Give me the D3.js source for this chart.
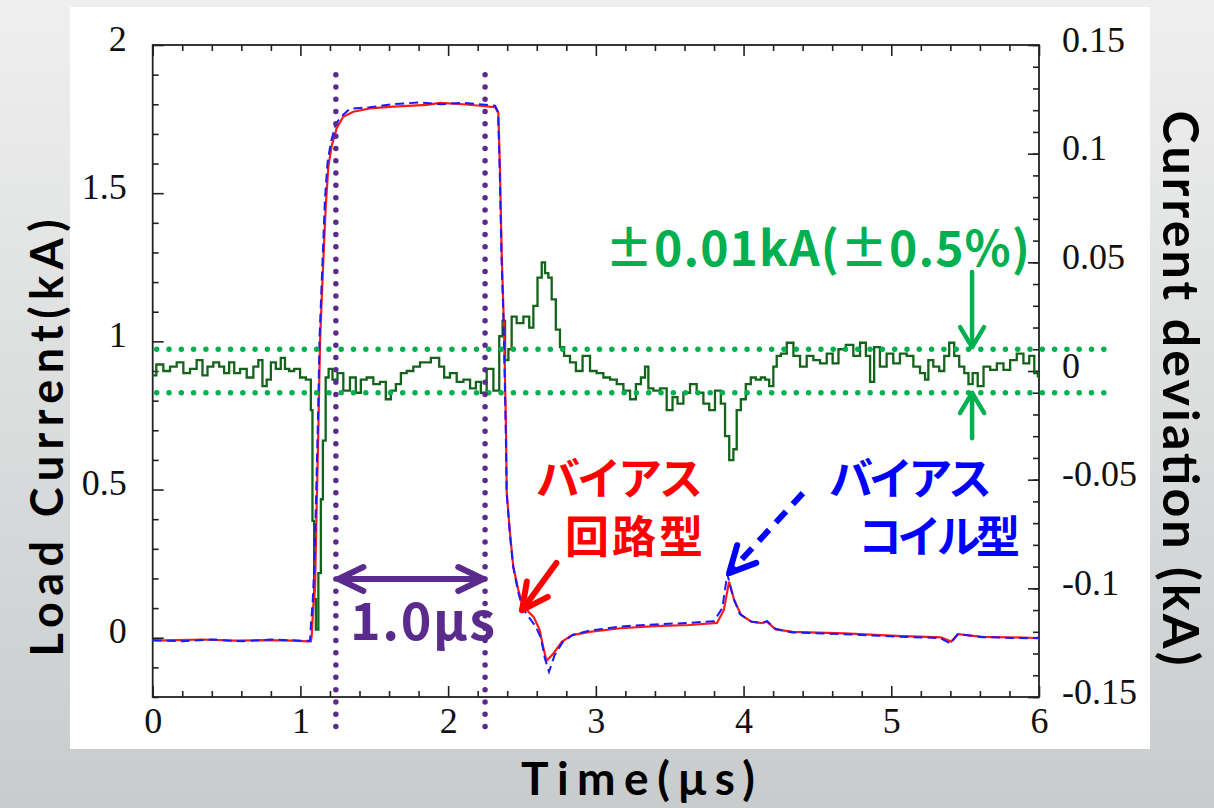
<!DOCTYPE html>
<html>
<head>
<meta charset="utf-8">
<style>
  html, body { margin: 0; padding: 0; }
  svg { display: block; }
</style>
</head>
<body>
<svg width="1214" height="808"></svg>
<script src="https://d3js.org/d3.v7.min.js"></script>
<script>

// time (us) and load current (kA), bias-circuit type (red)
const circuitType = [
  [0.00,-0.010],[0.15,-0.008],[0.35,-0.006],[0.55,-0.010],[0.75,-0.008],[0.95,-0.010],[1.05,-0.012],
  [1.070,-0.012],[1.076,0.003],[1.087,0.105],[1.099,0.17],[1.110,0.44],[1.121,0.69],[1.133,1.00],
  [1.144,1.14],[1.155,1.27],[1.171,1.45],[1.189,1.59],[1.212,1.66],[1.246,1.72],[1.290,1.758],
  [1.358,1.775],[1.471,1.786],[1.629,1.792],[1.855,1.798],[1.945,1.805],[2.100,1.800],[2.216,1.795],
  [2.318,1.790],[2.340,1.770],[2.351,1.578],[2.363,1.29],[2.378,1.05],[2.392,0.70],[2.397,0.487],
  [2.419,0.352],[2.441,0.24],[2.475,0.161],[2.509,0.105],[2.577,0.071],[2.584,0.065],[2.620,0.026],
  [2.643,-0.03],[2.666,-0.078],[2.713,-0.053],[2.771,-0.013],[2.841,0.009],[2.957,0.020],[3.167,0.032],
  [3.401,0.039],[3.634,0.043],[3.820,0.050],[3.866,0.093],[3.902,0.189],[3.937,0.127],[3.983,0.077],
  [4.053,0.054],[4.123,0.049],[4.158,0.054],[4.217,0.028],[4.333,0.020],[4.683,0.015],[5.033,0.006],
  [5.336,0.001],[5.405,-0.013],[5.452,0.012],[5.615,0.003],[5.940,0.000],[6.000,-0.002]
];

// bias-coil type (blue, dashed)
const coilType = [
  [0.00,-0.008],[0.20,-0.012],[0.40,-0.006],[0.60,-0.012],[0.80,-0.006],[1.00,-0.010],[1.065,-0.010],
  [1.072,0.05],[1.083,0.12],[1.095,0.25],[1.106,0.47],[1.118,0.72],[1.130,1.02],[1.141,1.16],
  [1.152,1.30],[1.166,1.48],[1.183,1.60],[1.205,1.67],[1.240,1.735],[1.290,1.765],[1.335,1.785],
  [1.47,1.790],[1.62,1.800],[1.80,1.806],[1.95,1.800],[2.10,1.805],[2.25,1.798],[2.318,1.795],
  [2.338,1.775],[2.349,1.58],[2.361,1.29],[2.376,1.05],[2.390,0.70],[2.396,0.49],[2.418,0.35],
  [2.440,0.24],[2.474,0.155],[2.505,0.098],[2.560,0.060],[2.590,0.040],[2.628,0.000],[2.655,-0.070],
  [2.683,-0.115],[2.720,-0.060],[2.775,-0.015],[2.845,0.010],[2.96,0.024],[3.17,0.038],[3.40,0.045],
  [3.63,0.050],[3.80,0.056],[3.856,0.100],[3.890,0.215],[3.930,0.135],[3.975,0.080],[4.050,0.055],
  [4.120,0.050],[4.160,0.056],[4.215,0.030],[4.33,0.018],[4.68,0.012],[5.03,0.004],[5.33,-0.001],
  [5.40,-0.020],[5.45,0.012],[5.62,0.002],[5.94,-0.002],[6.00,0.000]
];

// current deviation (kA) between the two, right axis
const deviation = [
  [0.00,-0.002],[0.049,0.003],[0.095,0.000],[0.14,0.002],[0.185,0.004],[0.23,-0.001],[0.275,0.001],
  [0.32,0.005],[0.354,-0.002],[0.388,0.002],[0.433,0.004],[0.467,0.002],[0.50,-0.001],[0.535,0.004],
  [0.569,-0.001],[0.614,0.001],[0.659,-0.003],[0.704,0.002],[0.726,0.005],[0.76,-0.007],[0.783,-0.004],
  [0.817,0.004],[0.85,0.001],[0.884,0.006],[0.907,0.001],[0.941,0.000],[0.975,0.001],[1.02,-0.003],
  [1.054,-0.004],[1.065,-0.004],[1.076,-0.018],[1.087,-0.069],[1.099,-0.105],[1.11,-0.119],
  [1.133,-0.093],[1.144,-0.059],[1.16,-0.032],[1.182,-0.003],[1.20,0.001],[1.234,-0.004],
  [1.268,-0.001],[1.313,-0.009],[1.358,-0.003],[1.392,-0.010],[1.426,-0.004],[1.471,-0.003],
  [1.516,-0.006],[1.561,-0.005],[1.595,-0.013],[1.629,-0.009],[1.663,-0.006],[1.697,-0.001],
  [1.742,0.000],[1.787,0.002],[1.832,0.004],[1.866,0.004],[1.90,0.006],[1.923,0.006],[1.956,0.002],
  [1.99,-0.003],[2.035,-0.001],[2.081,-0.005],[2.126,-0.004],[2.171,-0.008],[2.205,-0.005],
  [2.238,-0.010],[2.284,0.001],[2.329,-0.009],[2.363,0.016],[2.374,0.023],[2.397,0.005],[2.419,0.010],
  [2.441,0.025],[2.487,0.022],[2.532,0.025],[2.566,0.020],[2.588,0.030],[2.622,0.043],[2.645,0.050],
  [2.667,0.045],[2.69,0.043],[2.712,0.033],[2.746,0.019],[2.768,0.011],[2.802,0.007],[2.848,0.004],
  [2.882,0.000],[2.938,0.007],[2.983,0.000],[3.028,-0.001],[3.074,-0.003],[3.119,-0.004],
  [3.164,-0.006],[3.209,-0.009],[3.254,-0.013],[3.288,-0.006],[3.322,-0.003],[3.344,0.002],
  [3.367,-0.008],[3.412,-0.009],[3.457,-0.008],[3.502,-0.018],[3.536,-0.012],[3.57,-0.015],
  [3.615,-0.010],[3.66,-0.006],[3.705,-0.010],[3.751,-0.015],[3.784,-0.018],[3.829,-0.009],
  [3.863,-0.015],[3.886,-0.030],[3.92,-0.041],[3.942,-0.036],[3.965,-0.018],[3.998,-0.013],
  [4.032,-0.006],[4.066,-0.003],[4.10,-0.004],[4.134,-0.003],[4.157,-0.004],[4.19,-0.007],
  [4.213,0.002],[4.236,0.007],[4.27,0.008],[4.315,0.013],[4.36,0.007],[4.405,0.002],[4.45,0.007],
  [4.495,0.005],[4.54,0.0035],[4.586,0.008],[4.62,0.0035],[4.665,0.010],[4.72,0.012],[4.766,0.007],
  [4.811,0.013],[4.845,0.007],[4.868,-0.005],[4.90,0.011],[4.946,0.002],[4.991,0.008],[5.036,0.0035],
  [5.081,0.008],[5.127,0.007],[5.172,0.002],[5.217,-0.001],[5.24,-0.004],[5.262,0.005],[5.307,0.002],
  [5.342,0.000],[5.375,0.007],[5.409,0.013],[5.443,0.007],[5.477,0.002],[5.511,-0.001],[5.534,-0.006],
  [5.568,-0.001],[5.602,-0.007],[5.647,0.002],[5.692,0.0005],[5.737,0.0035],[5.782,0.0005],
  [5.827,0.005],[5.872,0.008],[5.917,0.0035],[5.951,0.007],[5.985,-0.001],[6.00,-0.0025]
];

const xTicks = [0, 1, 2, 3, 4, 5, 6];
const leftTicks = [0, 0.5, 1, 1.5, 2];
const rightTicks = [-0.15, -0.1, -0.05, 0, 0.05, 0.1, 0.15];
const markerTimes = [1.24, 2.25];   // purple dotted lines, 1.0 us apart
const tolerance = [0.01, -0.01];    // green dotted band

const svg = d3.select("svg");

// background
const defs = svg.append("defs");
const grad = defs.append("linearGradient").attr("id", "bg").attr("x1", 0).attr("y1", 0).attr("x2", 0).attr("y2", 1);
grad.append("stop").attr("offset", "0%").attr("stop-color", "#efefef");
grad.append("stop").attr("offset", "100%").attr("stop-color", "#c8cccd");
svg.append("rect").attr("width", 1214).attr("height", 808).attr("fill", "url(#bg)");
svg.append("rect").attr("x", 70).attr("y", 7).attr("width", 1080).attr("height", 742).attr("fill", "#fff");

const pLeft = 152.7, pRight = 1039, pTop = 45, pBottom = 697;

const x = d3.scaleLinear().domain([0, 6]).range([pLeft, pRight]);
const yL = d3.scaleLinear().domain([-0.2, 2]).range([pBottom, pTop]);
const yR = d3.scaleLinear().domain([-0.15, 0.15]).range([pBottom, pTop]);

const xMinor = d3.range(0, 31).map(i => i / 5).filter(v => !xTicks.includes(v));
const lMinor = d3.range(-2, 21).map(i => i / 10).filter(v => !leftTicks.includes(v));
const rMinor = d3.range(-15, 16).map(i => i / 100);

const tickFont = "'Liberation Serif', 'Times New Roman', serif";

function styleAxis(g) {
  g.select(".domain").remove();
  g.selectAll("line").attr("stroke", "#222").attr("stroke-width", 1.6);
  g.selectAll("text").attr("font-family", tickFont).attr("font-size", 36).attr("fill", "#111");
}

// bottom
svg.append("g").attr("transform", `translate(0,${pBottom})`)
  .call(d3.axisBottom(x).tickValues(xMinor).tickSize(-6).tickFormat("")).call(styleAxis);
svg.append("g").attr("transform", `translate(0,${pBottom})`)
  .call(d3.axisBottom(x).tickValues(xTicks).tickSize(-11).tickPadding(10).tickFormat(d => String(d)))
  .call(styleAxis);
// top
svg.append("g").attr("transform", `translate(0,${pTop})`)
  .call(d3.axisTop(x).tickValues(xMinor).tickSize(-6).tickFormat("")).call(styleAxis);
svg.append("g").attr("transform", `translate(0,${pTop})`)
  .call(d3.axisTop(x).tickValues(xTicks).tickSize(-11).tickFormat("")).call(styleAxis);
// left
svg.append("g").attr("transform", `translate(${pLeft},0)`)
  .call(d3.axisLeft(yL).tickValues(lMinor).tickSize(-6).tickFormat("")).call(styleAxis);
svg.append("g").attr("transform", `translate(${pLeft},0)`)
  .call(d3.axisLeft(yL).tickValues(leftTicks).tickSize(-11).tickPadding(26).tickFormat(d => String(d)))
  .call(styleAxis)
  .selectAll("text").attr("dy", "0.14em");
// right
svg.append("g").attr("transform", `translate(${pRight},0)`)
  .call(d3.axisRight(yR).tickValues(rMinor).tickSize(-6).tickFormat("")).call(styleAxis);
svg.append("g").attr("transform", `translate(${pRight},0)`)
  .call(d3.axisRight(yR).tickValues(rightTicks).tickSize(-11).tickPadding(23).tickFormat(d => String(d)))
  .call(styleAxis)
  .selectAll("text").attr("dy", "0.17em");

// frame
svg.append("rect").attr("x", pLeft).attr("y", pTop).attr("width", pRight - pLeft).attr("height", pBottom - pTop)
  .attr("fill", "none").attr("stroke", "#222").attr("stroke-width", 1.8);

// traces
const lineL = d3.line().x(d => x(d[0])).y(d => yL(d[1]));
const lineR = d3.line().x(d => x(d[0])).y(d => yR(d[1])).curve(d3.curveStep);

svg.append("path").datum(deviation).attr("d", lineR)
  .attr("fill", "none").attr("stroke", "#13631a").attr("stroke-width", 2.3);
svg.append("path").datum(circuitType).attr("d", lineL)
  .attr("fill", "none").attr("stroke", "#ff1a1a").attr("stroke-width", 2.2);
svg.append("path").datum(coilType).attr("d", lineL)
  .attr("fill", "none").attr("stroke", "#1a1aff").attr("stroke-width", 2)
  .attr("stroke-dasharray", "9,5");

// green tolerance band
svg.append("g").selectAll("line").data(tolerance).enter().append("line")
  .attr("x1", pLeft + 4).attr("x2", pRight + 66)
  .attr("y1", d => yR(d)).attr("y2", d => yR(d))
  .attr("stroke", "#00b050").attr("stroke-width", 5.5)
  .attr("stroke-linecap", "round").attr("stroke-dasharray", "0,12.3");

// purple dotted markers
svg.append("g").selectAll("line").data(markerTimes).enter().append("line")
  .attr("x1", d => x(d)).attr("x2", d => x(d))
  .attr("y1", yL(1.9)).attr("y2", yL(-0.335))
  .attr("stroke", "#5a2a8c").attr("stroke-width", 5.5)
  .attr("stroke-linecap", "round").attr("stroke-dasharray", "0,12.3");

// arrows
function arrow(x1, y1, x2, y2, color, width, dash, headLen, headHalf) {
  const g = svg.append("g").attr("stroke", color).attr("stroke-width", width)
    .attr("stroke-linecap", "round").attr("stroke-linejoin", "round").attr("fill", "none");
  g.append("line").attr("x1", x1).attr("y1", y1).attr("x2", x2).attr("y2", y2)
    .attr("stroke-dasharray", dash || null).attr("stroke-linecap", dash ? "butt" : "round");
  const a = Math.atan2(y2 - y1, x2 - x1);
  const bx = x2 - headLen * Math.cos(a), by = y2 - headLen * Math.sin(a);
  const px = -Math.sin(a) * headHalf, py = Math.cos(a) * headHalf;
  g.append("path").attr("d", `M${bx + px},${by + py}L${x2},${y2}L${bx - px},${by - py}`);
}

// 1.0 us double arrow
const arrowY = yL(0.198);
arrow(x(1.75), arrowY, x(1.257), arrowY, "#5a2a8c", 6, null, 25, 12);
arrow(x(1.75), arrowY, x(2.238), arrowY, "#5a2a8c", 6, null, 25, 12);

// tolerance arrows
arrow(x(5.547), yR(0.0456), x(5.547), yR(0.011), "#00b050", 4.5, null, 20, 12);
arrow(x(5.547), yR(-0.031), x(5.547), yR(-0.0101), "#00b050", 4.5, null, 20, 12);

// red and blue pointer arrows
arrow(x(2.733), yL(0.252), x(2.50), yL(0.093), "#ff0000", 6, null, 26, 13);
arrow(x(4.402), yL(0.488), x(3.902), yL(0.218), "#0000ff", 6, "15,10", 26, 13);

// annotation text
const jp = "'Noto Sans CJK JP', 'Noto Sans', sans-serif";
const titleFont = "Lato, 'Noto Sans', sans-serif";
function label(txt, px, py, size, color, len, anchor, rot, fam) {
  const t = svg.append("text").attr("font-family", fam || jp).attr("font-weight", 700)
    .attr("font-size", size).attr("fill", color).attr("text-anchor", anchor || "start")
    .text(txt);
  if (rot) t.attr("transform", `translate(${px},${py}) rotate(${rot})`);
  else t.attr("x", px).attr("y", py);
  if (len) t.attr("textLength", len).attr("lengthAdjust", "spacing");
  return t;
}

label("±0.01kA(±0.5%)", 605, 266, 48, "#00b050", 425);
label("1.0μs", 350, 640, 52, "#5a2a8c", 145);
label("バイアス", 536, 495, 44, "#ff0000", 167);
label("回路型", 565, 553, 44, "#ff0000", 138);
label("バイアス", 829, 495, 44, "#0000ff", 163);
label("コイル型", 858, 553, 44, "#0000ff", 162);

// axis titles
label("Time(μs)", 638, 795, 46, "#000", 234, "middle", null, titleFont);
label("Load Current(kA)", 63, 438, 45, "#000", 437, "middle", -90, titleFont);
label("Current deviation (kA)", 1163, 388, 50, "#000", 555, "middle", 90, titleFont);

</script>
</body>
</html>
